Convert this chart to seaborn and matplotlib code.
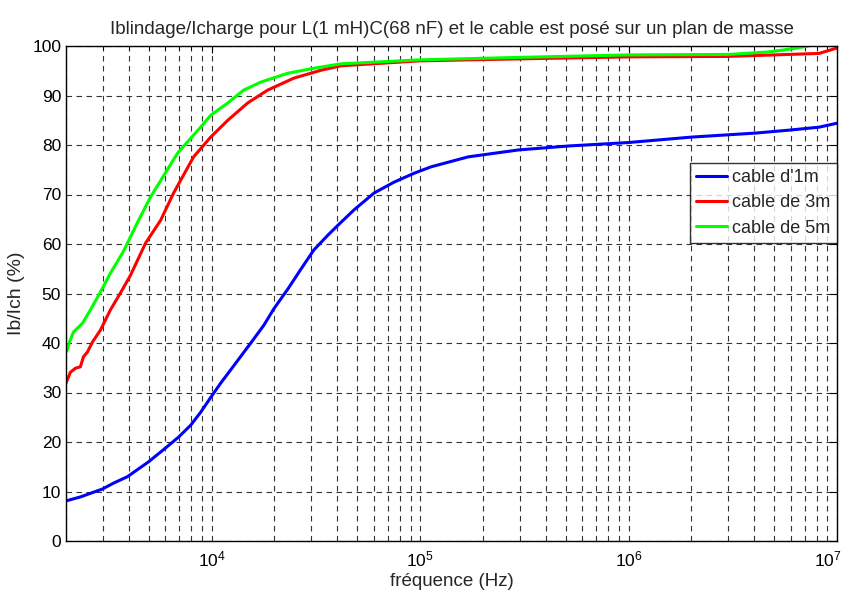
import numpy as np
import pandas as pd
import matplotlib
matplotlib.use("Agg")
import matplotlib.pyplot as plt
import matplotlib.transforms as mtransforms
import seaborn as sns
from matplotlib.ticker import LogLocator, NullFormatter, FixedLocator

# ---- data ----
freq_1m = [2000, 2345, 2990, 3385, 3945, 4980, 6010, 6940, 7930, 8850, 9890, 11050,
           12760, 15400, 17800, 19860, 23190, 26780, 30920, 36120, 40360, 48200, 60150,
           75000, 93600, 113000, 170000, 296000, 515000, 1e6, 2.01e6, 4.04e6, 5.88e6,
           8.2e6, 1e7]
val_1m = [8.1, 8.9, 10.5, 11.7, 13.0, 16.0, 18.8, 21.0, 23.4, 26.0, 29.0, 31.9,
          35.4, 40.0, 43.6, 46.9, 50.9, 54.9, 58.8, 61.8, 63.8, 66.9, 70.3,
          72.5, 74.3, 75.6, 77.6, 79.0, 79.8, 80.5, 81.6, 82.4, 83.0,
          83.6, 84.4]

freq_3m = [2000, 2100, 2220, 2345, 2425, 2536, 2680, 2925, 3267, 3650, 4080, 4820,
           5690, 6565, 8190, 9890, 11950, 14890, 18580, 24770, 33430, 41690, 1e5,
           3e5, 1e6, 3e6, 5e6, 8.2e6, 1e7]
val_3m = [31.9, 34.1, 34.9, 35.2, 37.2, 38.2, 40.2, 42.6, 46.7, 50.1, 53.7, 60.2,
          64.8, 70.3, 77.6, 81.6, 85.0, 88.5, 91.1, 93.5, 95.1, 96.0, 97.0,
          97.4, 97.8, 97.9, 98.2, 98.5, 99.6]

freq_5m = [2000, 2030, 2053, 2170, 2400, 2620, 2925, 3267, 3735, 3945, 4460, 5090,
           6870, 8850, 9890, 11950, 14250, 17200, 23190, 30920, 41690, 1e5,
           3e5, 1e6, 3.03e6, 4.7e6, 6e6, 7.3e6]
val_5m = [38.2, 38.6, 39.6, 42.2, 44.0, 46.7, 50.3, 54.1, 58.2, 60.2, 64.8, 69.5,
          78.4, 83.6, 86.0, 88.5, 91.1, 92.7, 94.5, 95.5, 96.4, 97.2,
          97.7, 98.2, 98.3, 98.8, 99.4, 100.0]

labels = ["cable d'1m", "cable de 3m", "cable de 5m"]
colors = ["#0000ff", "#ff0000", "#00ff00"]
y_ticks = list(range(0, 101, 10))
x_ticks = [1e4, 1e5, 1e6, 1e7]
x_ticklabels = [r"$10^{4}$", r"$10^{5}$", r"$10^{6}$", r"$10^{7}$"]

df = pd.concat([
    pd.DataFrame({"f": freq_1m, "v": val_1m, "s": labels[0]}),
    pd.DataFrame({"f": freq_3m, "v": val_3m, "s": labels[1]}),
    pd.DataFrame({"f": freq_5m, "v": val_5m, "s": labels[2]}),
], ignore_index=True)

sns.set_style("white")
plt.rcParams["font.family"] = ["Liberation Sans", "DejaVu Sans"]
plt.rcParams["mathtext.fontset"] = "custom"
plt.rcParams["mathtext.rm"] = "Liberation Sans"
plt.rcParams["mathtext.it"] = "Liberation Sans"

fig = plt.figure(figsize=(8.49, 5.96), dpi=100)
ax = fig.add_axes([66 / 849, 55 / 596, (837 - 66) / 849, (541 - 46) / 596])

sns.lineplot(data=df, x="f", y="v", hue="s", palette=dict(zip(labels, colors)),
             linewidth=2.2, ax=ax, estimator=None, sort=True, legend=True)

ax.set_xscale("log")
ax.set_xlim(2000, 1e7)
ax.set_ylim(0, 100)
ax.set_yticks(y_ticks)
ax.xaxis.set_major_locator(FixedLocator(x_ticks))
ax.set_xticklabels(x_ticklabels)
ax.xaxis.set_minor_locator(LogLocator(base=10, subs=np.arange(2, 10), numticks=20))
ax.xaxis.set_minor_formatter(NullFormatter())

grid_kw = dict(color="#333333", linestyle=(0, (5, 4)), linewidth=0.8)
ax.grid(True, which="major", axis="both", **grid_kw)
ax.grid(True, which="minor", axis="x", **grid_kw)
ax.set_axisbelow(True)

for sp in ax.spines.values():
    sp.set_color("black")
    sp.set_linewidth(1.0)

ax.tick_params(axis="both", which="both", direction="in", labelsize=12.5, colors="black")
ax.tick_params(axis="both", which="major", length=5)
ax.tick_params(axis="x", which="minor", length=3)
ax.tick_params(axis="x", which="major", pad=6)
ax.tick_params(top=True, right=True, which="both")

# shift the last x tick label left so it stays inside the figure (as in the reference)
last = ax.get_xticklabels()[-1]
last.set_transform(last.get_transform() +
                   mtransforms.ScaledTranslation(-9 / 100, 0, fig.dpi_scale_trans))

ax.set_title("Iblindage/Icharge pour L(1 mH)C(68 nF) et le cable est posé sur un plan de masse",
             fontsize=13.5, pad=9)
ax.set_xlabel("fréquence (Hz)", fontsize=13.5, labelpad=3)
ax.set_ylabel("Ib/Ich (%)", fontsize=14, labelpad=5)

leg = ax.legend(loc="upper right", bbox_to_anchor=(1.0, (541 - 163) / 495), borderaxespad=0,
                fontsize=13, frameon=True, fancybox=False, edgecolor="black",
                handlelength=1.7, handletextpad=0.3, labelspacing=0.45, borderpad=0.35)
leg.get_frame().set_linewidth(1.0)
leg.set_title(None)

fig.savefig("out.png", dpi=100, facecolor="white")
